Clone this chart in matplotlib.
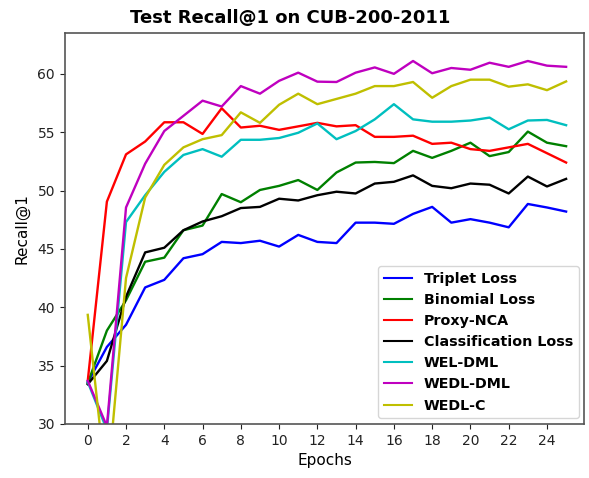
import matplotlib
matplotlib.use('Agg')
import matplotlib.pyplot as plt
import numpy as np

epochs = np.arange(26)

triplet = [33.55, 36.6, 38.5, 41.7, 42.35, 44.2, 44.55, 45.6, 45.5, 45.7, 45.2, 46.2, 45.6,
           45.5, 47.25, 47.25, 47.15, 48.0, 48.6, 47.25, 47.55, 47.25, 46.85, 48.85, 48.55, 48.2]
binomial = [33.5, 38.0, 40.6, 43.9, 44.25, 46.6, 47.0, 49.7, 49.0, 50.05, 50.4, 50.9, 50.05,
            51.55, 52.4, 52.45, 52.35, 53.4, 52.8, 53.4, 54.1, 52.95, 53.3, 55.05, 54.1, 53.8]
proxy_nca = [33.7, 49.05, 53.1, 54.2, 55.85, 55.85, 54.85, 57.05, 55.4, 55.55, 55.2, 55.5, 55.8,
             55.5, 55.6, 54.6, 54.6, 54.7, 54.0, 54.1, 53.55, 53.4, 53.7, 54.0, 53.2, 52.4]
classification = [33.4, 35.4, 40.9, 44.7, 45.1, 46.6, 47.35, 47.8, 48.5, 48.6, 49.3, 49.15, 49.6,
                   49.9, 49.75, 50.6, 50.75, 51.3, 50.4, 50.2, 50.6, 50.5, 49.75, 51.2, 50.35, 51.0]
wel_dml = [33.6, 29.5, 47.3, 49.6, 51.6, 53.05, 53.55, 52.9, 54.35, 54.35, 54.5, 54.95, 55.75,
           54.4, 55.1, 56.1, 57.4, 56.1, 55.9, 55.9, 56.0, 56.25, 55.25, 56.0, 56.05, 55.6]
wedl_dml = [33.7, 29.8, 48.55, 52.3, 55.1, 56.4, 57.7, 57.2, 58.95, 58.3, 59.4, 60.1, 59.33,
            59.3, 60.1, 60.55, 60.0, 61.1, 60.05, 60.5, 60.35, 60.95, 60.6, 61.1, 60.7, 60.6]
wedl_c = [39.35, 24.3, 42.5, 49.4, 52.2, 53.7, 54.4, 54.75, 56.7, 55.8, 57.35, 58.3, 57.4,
          57.85, 58.3, 58.95, 58.95, 59.3, 57.95, 58.95, 59.5, 59.5, 58.9, 59.1, 58.6, 59.35]

series = [
    ('Triplet Loss', triplet, 'b'),
    ('Binomial Loss', binomial, 'g'),
    ('Proxy-NCA', proxy_nca, 'r'),
    ('Classification Loss', classification, 'k'),
    ('WEL-DML', wel_dml, 'c'),
    ('WEDL-DML', wedl_dml, 'm'),
    ('WEDL-C', wedl_c, 'y'),
]

fig = plt.figure(figsize=(5.89, 4.78), dpi=100)
ax = fig.add_axes([0.110, 0.113, 0.882, 0.818])

for name, vals, col in series:
    ax.plot(epochs, vals, color=col, linewidth=1.7, label=name)

ax.set_xlim(-1.2, 25.95)
ax.set_ylim(30, 63.5)
ax.set_xticks(np.arange(0, 25, 2))
ax.set_yticks(np.arange(30, 61, 5))
ax.tick_params(labelsize=10, colors='#222222')
for sp in ax.spines.values():
    sp.set_color('#555555')
    sp.set_linewidth(1.2)

# title sits centred on the figure rather than the axes
fig.text(0.493, 0.962, 'Test Recall@1 on CUB-200-2011', fontsize=13, fontweight='bold',
         ha='center', va='center')
ax.set_xlabel('Epochs', fontsize=11)
ax.set_ylabel('Recall@1', fontsize=11, labelpad=6)
leg = ax.legend(loc='lower right', prop={'weight': 'bold', 'size': 10.3},
                handlelength=2.0, borderaxespad=0.4)
for line in leg.get_lines():
    line.set_linewidth(1.5)

fig.savefig('out.png', dpi=100)
